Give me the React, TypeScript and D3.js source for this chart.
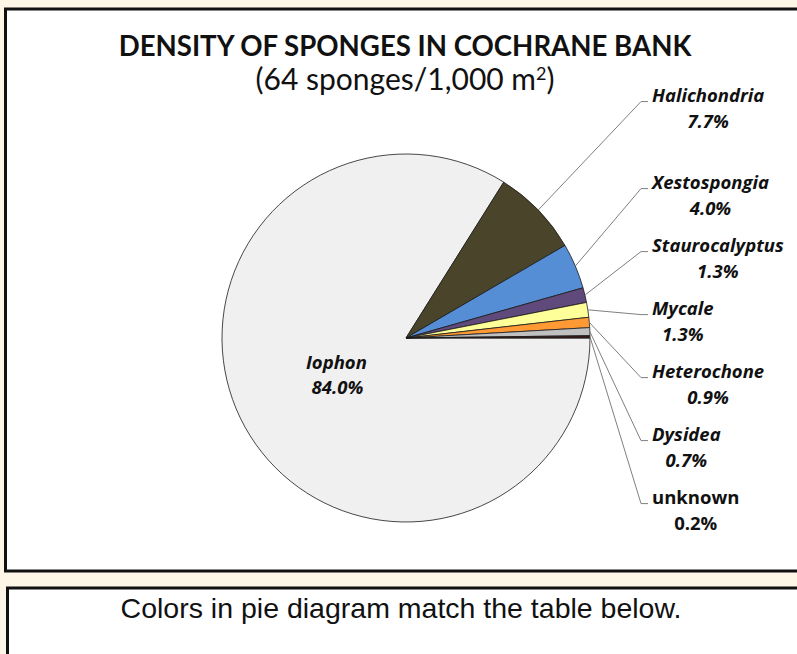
import React, {useEffect, useRef} from 'react'
import * as d3 from 'd3'

const W = 797
const H = 654

const titleText = 'DENSITY OF SPONGES IN COCHRANE BANK'
const subtitleText = '(64 sponges/1,000 m'
const noteText = 'Colors in pie diagram match the table below.'

// species and share of the total (percent)
const categories = ['Iophon', 'Halichondria', 'Xestospongia', 'Staurocalyptus', 'Mycale', 'Heterochone', 'Dysidea', 'unknown']
const percents = [84.0, 7.7, 4.0, 1.3, 1.3, 0.9, 0.7, 0.2]
const sliceColors = ['#f0f0f0', '#4a452a', '#558ed5', '#604a7b', '#ffff99', '#ff9933', '#c0c0c0', '#3a1a1a']

const cx = 406, cy = 338, radius = 184
const titleFont = "Lato, 'Open Sans', sans-serif"
const labelFont = "'Open Sans', Lato, sans-serif"
const labelSize = 18.5

export default function App() {
  const ref = useRef<SVGSVGElement>(null)

  useEffect(() => {
    const svg = d3.select(ref.current)
    svg.selectAll('*').remove()

    // page + boxes
    svg.append('rect').attr('width', W).attr('height', H).attr('fill', '#fdf5e6')
    svg.append('rect')
      .attr('x', 5.5).attr('y', 9).attr('width', W + 10).attr('height', 562)
      .attr('fill', '#fff').attr('stroke', '#111').attr('stroke-width', 3)
    svg.append('rect')
      .attr('x', 7.5).attr('y', 588).attr('width', W + 10).attr('height', 120)
      .attr('fill', '#fff').attr('stroke', '#111').attr('stroke-width', 3)

    svg.append('text').text(noteText)
      .attr('x', 401).attr('y', 618)
      .attr('text-anchor', 'middle')
      .attr('font-family', "'Liberation Sans', Arial, sans-serif")
      .attr('font-size', 28.5).attr('fill', '#111')

    // titles
    svg.append('text').text(titleText)
      .attr('x', 405).attr('y', 56)
      .attr('text-anchor', 'middle')
      .attr('font-family', titleFont).attr('font-weight', 700)
      .attr('font-size', 27.6).attr('fill', '#111')
    const sub = svg.append('text')
      .attr('x', 405).attr('y', 90)
      .attr('text-anchor', 'middle')
      .attr('font-family', titleFont)
      .attr('font-size', 30).attr('fill', '#111')
    sub.append('tspan').text(subtitleText)
    sub.append('tspan').text('2').attr('dy', -10).attr('font-size', 18)
    sub.append('tspan').text(')').attr('dy', 10)

    const data = categories.map((name, i) => ({name, value: percents[i], color: sliceColors[i]}))

    const pie = d3.pie<any>()
      .sort(null)
      .value(d => d.value)
      .startAngle(Math.PI / 2)
      .endAngle(Math.PI / 2 + 2 * Math.PI)
    const arcs = pie(data)

    const arc = d3.arc<any>().innerRadius(0).outerRadius(radius)
    const innerLabelArc = d3.arc<any>().innerRadius(0).outerRadius(radius * 0.84)

    const g = svg.append('g').attr('transform', 'translate(' + cx + ',' + cy + ')')

    g.selectAll('path.slice')
      .data(arcs)
      .enter()
      .append('path')
      .attr('class', 'slice')
      .attr('d', arc)
      .attr('fill', d => d.data.color)
      .attr('stroke', '#1a1a1a')
      .attr('stroke-width', 0.8)
      .attr('stroke-linejoin', 'round')

    const fmt = d3.format('.1f')

    // big slice labelled inside
    const inside = arcs.filter(d => d.data.value > 20)
    const outside = arcs.filter(d => d.data.value <= 20)

    inside.forEach(d => {
      const [x, y] = innerLabelArc.centroid(d)
      const t = g.append('text')
        .attr('text-anchor', 'middle')
        .attr('font-family', labelFont).attr('font-weight', 700)
        .attr('font-style', 'italic').attr('font-size', labelSize).attr('fill', '#111')
      t.append('tspan').text(d.data.name).attr('x', x - 2).attr('y', y - 6)
      t.append('tspan').text(fmt(d.data.value) + '%').attr('x', x - 1).attr('y', y + 19)
    })

    // outside labels: ideal spot from mid angle, then spread apart
    const gap = 63
    const bottom = radius * 0.9
    const mid = (d: any) => (d.startAngle + d.endAngle) / 2
    const ys = outside.map(d => -340 * Math.cos(mid(d)))
    for (let i = 1; i < ys.length; i++) ys[i] = Math.max(ys[i], ys[i - 1] + gap)
    ys[ys.length - 1] = Math.min(ys[ys.length - 1], bottom)
    for (let i = ys.length - 2; i >= 0; i--) ys[i] = Math.min(ys[i], ys[i + 1] - gap)

    const bendX = 235, endX = 242, textX = 246

    outside.forEach((d, i) => {
      const a = mid(d)
      const px = radius * Math.sin(a), py = -radius * Math.cos(a)
      const y = ys[i]
      g.append('path')
        .attr('d', d3.line()([[px, py], [bendX, y], [endX, y]]))
        .attr('fill', 'none').attr('stroke', '#7f7f7f').attr('stroke-width', 1)

      const italic = d.data.name !== 'unknown'
      const name = g.append('text').text(d.data.name)
        .attr('x', textX).attr('y', y)
        .attr('font-family', labelFont).attr('font-weight', 700)
        .attr('font-style', italic ? 'italic' : 'normal')
        .attr('font-size', labelSize).attr('fill', '#111')
      const w = (name.node() as SVGTextElement).getComputedTextLength()
      g.append('text').text(fmt(d.data.value) + '%')
        .attr('x', textX + w / 2).attr('y', y + 26)
        .attr('text-anchor', 'middle')
        .attr('font-family', labelFont).attr('font-weight', 700)
        .attr('font-style', italic ? 'italic' : 'normal')
        .attr('font-size', labelSize).attr('fill', '#111')
    })
  }, [])

  return (
    <div style={{position: 'absolute', left: 0, top: 0}}>
      <svg ref={ref} width={W} height={H} style={{display: 'block'}} />
    </div>
  )
}
